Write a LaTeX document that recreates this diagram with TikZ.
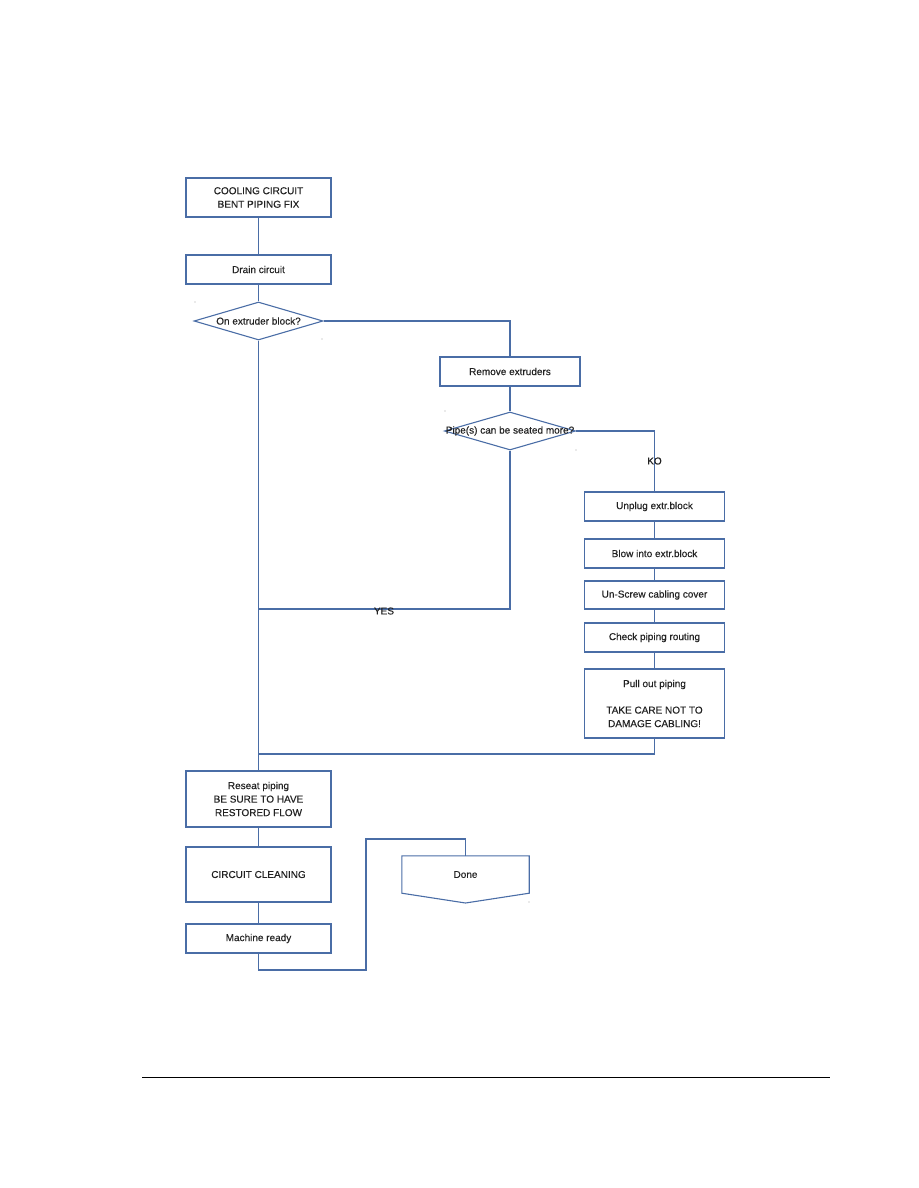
\documentclass[tikz,border=0pt]{standalone}
\usepackage{fontspec}
\setmainfont[FakeBold=0.35]{Liberation Sans}
\usetikzlibrary{shapes.geometric}
\definecolor{flow}{HTML}{4A6DA6}
\definecolor{txt}{HTML}{222222}
\begin{document}
\begin{tikzpicture}[x=1pt,y=-1pt,
  every node/.style={font=\fontsize{10}{13.5}\selectfont, text=txt},
  stepbox/.style={draw=flow, line width=1.1pt, rectangle, inner sep=0pt, align=center},
  decision/.style={draw=flow, line width=1.1pt, diamond, inner sep=0pt},
  link/.style={draw=flow, line width=1.1pt},
  speck/.style={fill=gray!70, draw=none, circle, inner sep=0pt, minimum size=1.3pt}
]
\useasboundingbox (0,0) rectangle (918,1188);
% left column
\node[stepbox, minimum width=145, minimum height=39] (b1) at (258.5,197.5) {COOLING CIRCUIT\\BENT PIPING FIX};
\node[stepbox, minimum width=145, minimum height=29] (b2) at (258.5,269.5) {Drain circuit};
\node[decision, minimum width=129, minimum height=38] (d1) at (258.5,321) {};
\node (d1t) at (d1) {On extruder block?};
\node[stepbox, minimum width=140, minimum height=29] (b3) at (510,371.5) {Remove extruders};
\node[decision, minimum width=131, minimum height=38] (d2) at (510,431) {};
\node (d2t) at (d2) {Pipe(s) can be seated more?};
% right column
\node[stepbox, minimum width=140, minimum height=29] (u1) at (654.5,506.5) {Unplug extr.block};
\node[stepbox, minimum width=140, minimum height=29] (u2) at (654.5,553.5) {Blow into extr.block};
\node[stepbox, minimum width=140, minimum height=28] (u3) at (654.5,595) {Un-Screw cabling cover};
\node[stepbox, minimum width=140, minimum height=29] (u4) at (654.5,637.5) {Check piping routing};
\node[stepbox, minimum width=140, minimum height=69] (u5) at (654.5,703.5) {Pull out piping\\[13pt]TAKE CARE NOT TO\\DAMAGE CABLING!};
% bottom
\node[stepbox, minimum width=145, minimum height=56] (r1) at (258.5,799) {Reseat piping\\BE SURE TO HAVE\\RESTORED FLOW};
\node[stepbox, minimum width=145, minimum height=55] (cc) at (258.5,874.5) {CIRCUIT CLEANING};
\node[stepbox, minimum width=145, minimum height=29] (mr) at (258.5,938.5) {Machine ready};
\node[inner sep=0pt, minimum width=127, minimum height=37] (done) at (465.5,874.5) {Done};
\path[link] (done.north west) -- (done.north east) -- (done.south east) -- (465.5,903) -- (done.south west) -- cycle;
% junction coordinates
\coordinate (j1) at (258.5,609);
\coordinate (j2) at (258.5,754);
\coordinate (k1) at (258.5,970);
\coordinate (k2) at (366,970);
\coordinate (k3) at (366,839);
% connectors
\draw[link] (b1.south) -- (b2.north);
\draw[link] (b2.south) -- (d1.north);
\draw[link] (d1.east) -| (b3.north);
\draw[link] (b3.south) -- (d2.north);
\draw[link] (d2.east) -| (u1.north);
\node (ko) at (654.5,461) {KO};
\draw[link] (u1.south) -- (u2.north);
\draw[link] (u2.south) -- (u3.north);
\draw[link] (u3.south) -- (u4.north);
\draw[link] (u4.south) -- (u5.north);
\draw[link] (u5.south) |- (j2);
\draw[link] (d2.south) |- (j1);
\node (yes) at (384,611) {YES};
\draw[link] (d1.south) -- (r1.north);
\draw[link] (r1.south) -- (cc.north);
\draw[link] (cc.south) -- (mr.north);
\draw[link] (mr.south) -- (k1) -- (k2) -- (k3) -| (done.north);
% stray specks
\node[speck] (s1) at (195,302) {};
\node[speck] (s2) at (322,339) {};
\node[speck] (s3) at (445,411) {};
\node[speck] (s4) at (576,450) {};
\node[speck] (s5) at (529,902) {};
% footer rule
\coordinate (f1) at (142,1077);
\coordinate (f2) at (830,1077);
\draw[black, line width=0.9pt] (f1) -- (f2);
\end{tikzpicture}
\end{document}
